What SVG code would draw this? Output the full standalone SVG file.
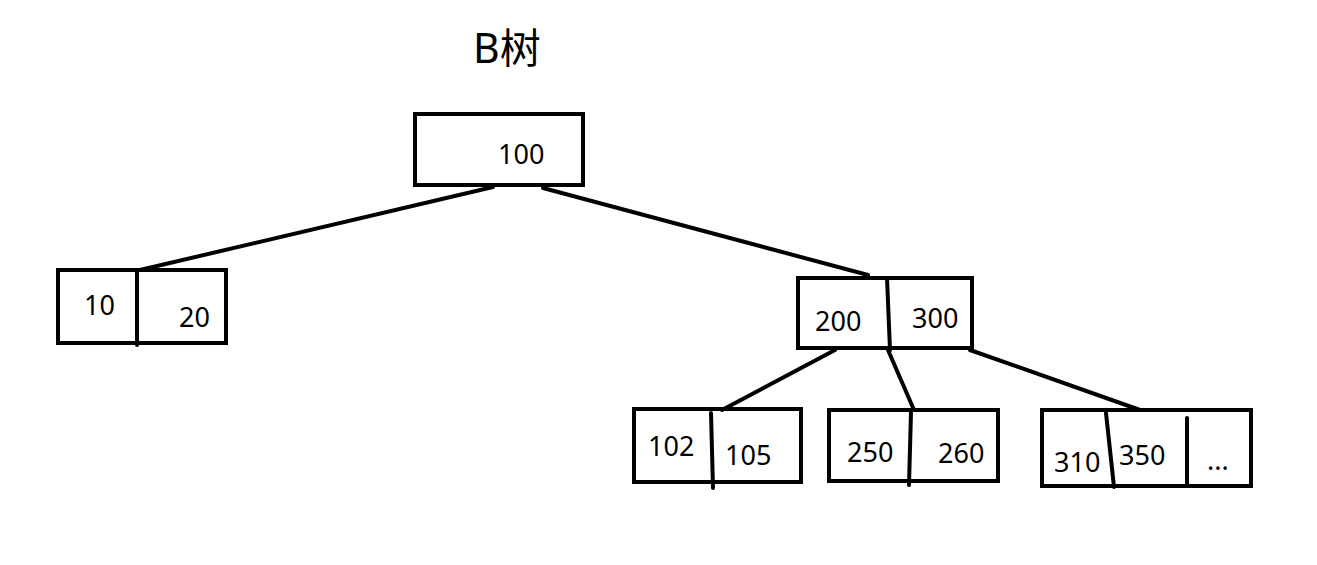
<svg xmlns="http://www.w3.org/2000/svg" width="1317" height="565" viewBox="0 0 1317 565">
<style>
.box{fill:none;stroke:#000;stroke-width:4}
.div{stroke:#000;stroke-width:4;stroke-linecap:round}
.edge{stroke:#000;stroke-width:4;stroke-linecap:round;fill:none}
.t{font-family:"Noto Sans","Open Sans","Liberation Sans",sans-serif;font-size:27px;fill:#000}
.title{font-family:"Noto Sans","Noto Sans CJK SC",sans-serif;font-size:41px;fill:#000}
</style>
<rect width="1317" height="565" fill="#fff"/>
<text class="title" x="473" y="63">B树</text>
<g id="connectors">
<line class="edge" x1="493" y1="187" x2="140" y2="270"/>
<line class="edge" x1="543" y1="188" x2="868" y2="275"/>
<line class="edge" x1="835" y1="350" x2="722" y2="410"/>
<line class="edge" x1="888" y1="350" x2="914" y2="410"/>
<line class="edge" x1="970" y1="350" x2="1140" y2="410"/>
</g>
<g id="n100">
<rect class="box" x="415" y="114" width="168" height="71"/>
<text class="t" x="498" y="164">100</text>
</g>
<g id="n10_20">
<rect class="box" x="58" y="270" width="168" height="73"/>
<line class="div" x1="137" y1="270" x2="137" y2="345"/>
<text class="t" x="84" y="315">10</text>
<text class="t" x="179" y="327">20</text>
</g>
<g id="n200_300">
<rect class="box" x="798" y="278" width="174" height="70"/>
<line class="div" x1="887" y1="278" x2="890" y2="350"/>
<text class="t" x="815" y="331">200</text>
<text class="t" x="912" y="328">300</text>
</g>
<g id="n102_105">
<rect class="box" x="634" y="409" width="167" height="73"/>
<line class="div" x1="711" y1="413" x2="713" y2="488"/>
<text class="t" x="648" y="456">102</text>
<text class="t" x="725" y="465">105</text>
</g>
<g id="n250_260">
<rect class="box" x="829" y="410" width="169" height="71"/>
<line class="div" x1="911" y1="412" x2="909" y2="485"/>
<text class="t" x="847" y="462">250</text>
<text class="t" x="938" y="463">260</text>
</g>
<g id="n310_350">
<rect class="box" x="1042" y="410" width="209" height="76"/>
<line class="div" x1="1106" y1="413" x2="1114" y2="487"/>
<line class="div" x1="1187" y1="418" x2="1187" y2="486"/>
<text class="t" x="1054" y="472">310</text>
<text class="t" x="1119" y="465">350</text>
<text class="t" x="1207" y="470">...</text>
</g>
</svg>
